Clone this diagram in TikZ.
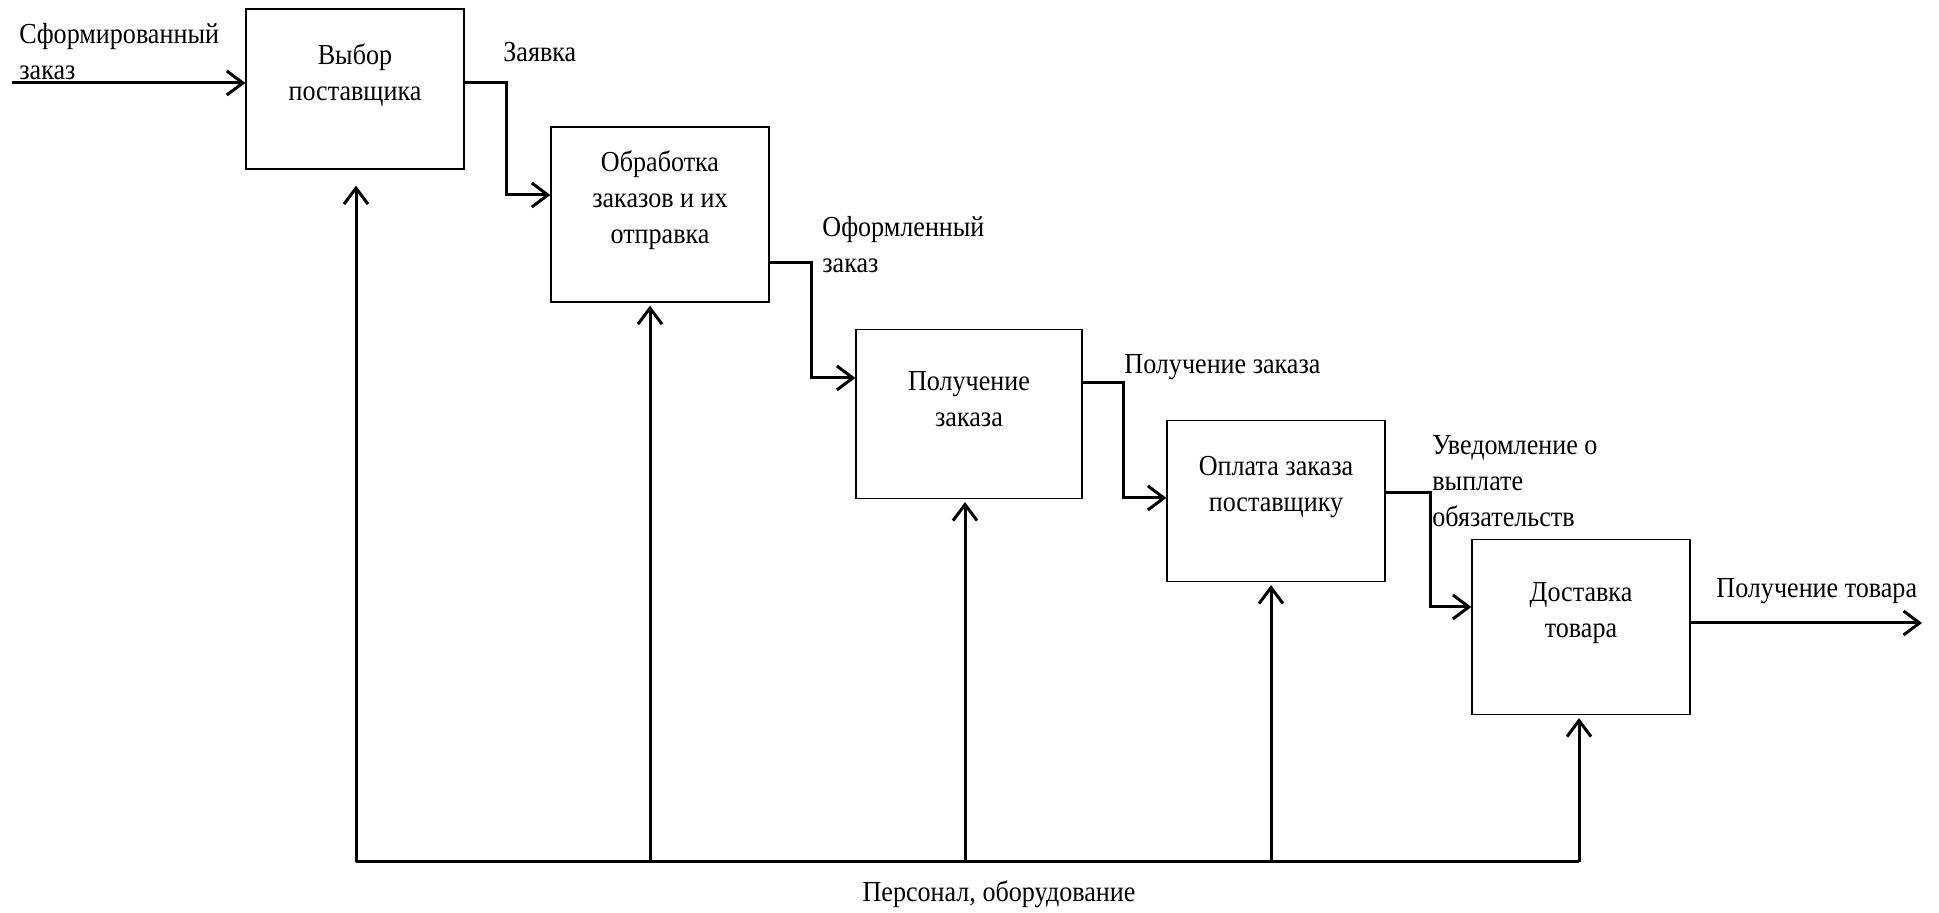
\documentclass[tikz,border=0pt]{standalone}
\usepackage{fontspec}
\setmainfont[FakeStretch=0.9]{Liberation Serif}
\usetikzlibrary{arrows.meta,positioning}

\tikzset{
	block/.style={draw, line width=0.6pt, minimum width=109pt, inner sep=0pt},
	flow/.style={line width=1.5pt, -{Straight Barb[length=8pt,width=12pt,line width=1.5pt]}},
	txt/.style={font=\fontsize{14.5}{18}\selectfont, inner sep=0pt, align=center},
	lbl/.style={font=\fontsize{14.5}{18}\selectfont, inner sep=0pt, align=left, anchor=west},
}

\begin{document}
\begin{tikzpicture}[x=0.5pt, y=-0.5pt]
		\useasboundingbox (0,0) rectangle (1939,913);
		\node[block, minimum height=80pt] (b1) at (355,89) {};
		\node[block, minimum height=87.5pt] (b2) at (660,214.5) {};
		\node[block, minimum width=113pt, minimum height=84.5pt] (b3) at (969,414) {};
		\node[block, minimum height=80.5pt] (b4) at (1276,501) {};
		\node[block, minimum height=87.5pt] (b5) at (1581,627) {};
		\node[txt] (t1) at (355,75) {Выбор\\поставщика};
		\node[txt] (t2) at (660,200) {Обработка\\заказов и их\\отправка};
		\node[txt] (t3) at (969,399) {Получение\\заказа};
		\node[txt] (t4) at (1276,487) {Оплата заказа\\поставщику};
		\node[txt] (t5) at (1581,613) {Доставка\\товара};
		\coordinate (in) at (12,83);
		\coordinate (out) at (1922,623);
		\draw[flow] (in) -- (b1.west |- in);
		\draw[flow] (b1.east |- 0,83) -- (506,83) |- (b2.west |- 0,195);
		\draw[flow] (b2.east |- 0,263) -- (811,263) |- (b3.west |- 0,378);
		\draw[flow] (b3.east |- 0,383) -- (1123,383) |- (b4.west |- 0,498);
		\draw[flow] (b4.east |- 0,493) -- (1430,493) |- (b5.west |- 0,607);
		\draw[flow] (b5.east |- out) -- (out);
		\node[lbl] (l0) at (19,52) {Сформированный\\заказ};
		\node[lbl] (l1) at (503,52) {Заявка};
		\node[lbl] (l2) at (822,245) {Оформленный\\заказ};
		\node[lbl] (l3) at (1124,367) {Получение заказа};
		\node[lbl] (l4) at (1432,481) {Уведомление о\\выплате\\обязательств};
		\node[lbl] (l5) at (1716,591) {Получение товара};
		\foreach \i/\x in {1/356,2/650,3/965,4/1271,5/1579}
			\coordinate (m\i) at (\x,862);
		\draw[line width=1.5pt] (m1) -- (m5);
		\draw[flow, shorten >=8pt] (m1) -- (m1 |- b1.south);
		\foreach \i in {2,...,5}
			\draw[flow, shorten >=1.5pt] (m\i) -- (m\i |- b\i.south);
		\node[txt] (mech) at (999,894) {Персонал, оборудование};
	\end{tikzpicture}
\end{document}
